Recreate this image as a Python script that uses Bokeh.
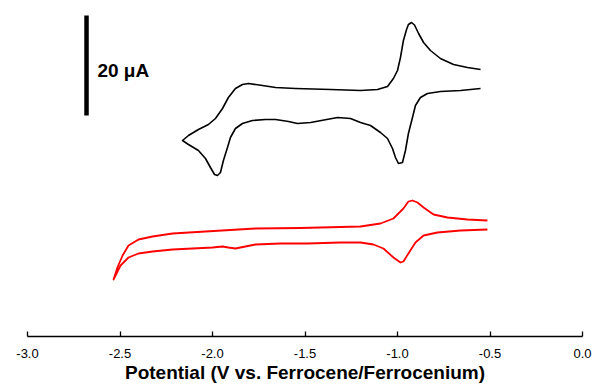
from bokeh.plotting import figure
from bokeh.models import FixedTicker, Range1d
from bokeh.core.properties import value
from bokeh.embed import file_html
from bokeh.resources import INLINE

# Black CV trace (potential in V vs Fc/Fc+, current in uA with arbitrary offset)
black_v = [-0.551, -0.622, -0.697, -0.768, -0.822, -0.859, -0.886, -0.908, -0.924, -0.941,
           -0.951, -0.968, -0.984, -1.000, -1.022, -1.054, -1.108, -1.200, -1.362, -1.551,
           -1.659, -1.730, -1.805, -1.838, -1.876, -1.914, -1.946, -1.984, -2.022, -2.076,
           -2.130, -2.162,
           -2.130, -2.076, -2.038, -2.011, -1.989, -1.973, -1.957, -1.941, -1.919, -1.903,
           -1.876, -1.838, -1.784, -1.714, -1.659, -1.589, -1.541, -1.470, -1.324, -1.254,
           -1.200, -1.146, -1.092, -1.054, -1.027, -1.011, -0.995, -0.973, -0.957, -0.941,
           -0.919, -0.903, -0.876, -0.838, -0.768, -0.659, -0.551]
black_i = [53.4, 53.8, 54.4, 55.6, 57.2, 58.8, 60.6, 62.3, 62.8, 62.4,
           61.4, 59.2, 55.8, 53.2, 51.6, 50.0, 49.4, 49.2, 49.4, 49.6,
           49.8, 50.2, 50.6, 50.4, 49.6, 47.8, 45.6, 43.6, 42.4, 41.4,
           40.2, 39.2,
           38.4, 37.2, 35.6, 33.8, 32.4, 32.2, 32.8, 35.2, 37.8, 39.8,
           41.6, 42.6, 43.2, 43.4, 43.4, 43.0, 42.6, 42.8, 43.8, 43.6,
           42.8, 42.2, 40.8, 39.6, 37.6, 35.8, 34.6, 34.8, 37.2, 40.6,
           43.8, 46.2, 47.8, 48.6, 49.0, 49.2, 49.6]

# Red CV trace
red_v = [-0.514, -0.622, -0.730, -0.805, -0.859, -0.892, -0.919, -0.941, -0.968, -1.022,
         -1.092, -1.200, -1.308, -1.524, -1.768, -1.859, -2.038, -2.216, -2.324, -2.400,
         -2.454, -2.486, -2.514, -2.535,
         -2.524, -2.497, -2.454, -2.400, -2.324, -2.216, -2.108, -2.000, -1.946, -1.914,
         -1.876, -1.822, -1.768, -1.632, -1.486, -1.308, -1.200, -1.130, -1.076, -1.022,
         -0.984, -0.968, -0.941, -0.903, -0.859, -0.784, -0.659, -0.514]
red_i = [23.2, 23.4, 23.8, 24.4, 25.8, 26.8, 27.2, 27.0, 25.6, 23.6,
         22.6, 22.0, 21.9, 21.7, 21.6, 21.4, 21.0, 20.6, 20.0, 19.4,
         18.2, 16.2, 13.8, 11.4,
         12.2, 14.2, 15.8, 16.6, 17.0, 17.4, 17.6, 17.8, 18.0, 17.8,
         17.6, 18.0, 18.4, 18.6, 18.6, 18.8, 18.8, 18.4, 17.6, 15.8,
         14.8, 15.0, 16.6, 18.8, 20.2, 20.8, 21.2, 21.4]

# Scale bar
bar_v = [-2.681, -2.681]
bar_i = [44.2, 64.2]
bar_label = ["20 \u03bcA"]

tick_values = [-3.0, -2.5, -2.0, -1.5, -1.0, -0.5, 0.0]
tick_labels = ["-3.0", "-2.5", "-2.0", "-1.5", "-1.0", "-0.5", "0.0"]
x_title = "Potential (V vs. Ferrocene/Ferrocenium)"

p = figure(width=597, height=387, output_backend="svg", toolbar_location=None,
           x_range=Range1d(-3.0, 0.0), y_range=Range1d(0, 67.2),
           min_border_left=27, min_border_right=15, min_border_top=0, min_border_bottom=51,
           y_axis_location=None)
p.outline_line_color = None
p.xgrid.visible = False
p.ygrid.visible = False
p.background_fill_color = "white"
p.border_fill_color = "white"

p.line(black_v, black_i, line_color="black", line_width=1.6, line_join="round")
p.line(red_v, red_i, line_color="#ff0000", line_width=1.8, line_join="round")

p.line(bar_v, bar_i, line_color="black", line_width=4.5)
p.text(x=[-2.622], y=[53.2], text=bar_label, text_font=value("Liberation Sans"),
       text_font_size="19px", text_font_style="bold", text_baseline="middle",
       text_align="left", text_color="black")

ax = p.xaxis[0]
ax.ticker = FixedTicker(ticks=tick_values)
ax.major_label_overrides = {v: s for v, s in zip(tick_values, tick_labels)}
ax.minor_tick_line_color = None
ax.major_tick_in = 5
ax.major_tick_out = 0
ax.axis_line_width = 1.3
ax.major_tick_line_width = 1.3
ax.axis_line_color = "black"
ax.major_tick_line_color = "black"
ax.major_label_text_font = "Liberation Sans"
ax.major_label_text_font_size = "13px"
ax.major_label_text_color = "black"
ax.major_label_standoff = 12
ax.axis_label = x_title
ax.axis_label_text_font = "Liberation Sans"
ax.axis_label_text_font_size = "19px"
ax.axis_label_text_font_style = "bold"
ax.axis_label_text_color = "black"
ax.axis_label_standoff = 1

open("out.html", "w").write(file_html(p, INLINE))
